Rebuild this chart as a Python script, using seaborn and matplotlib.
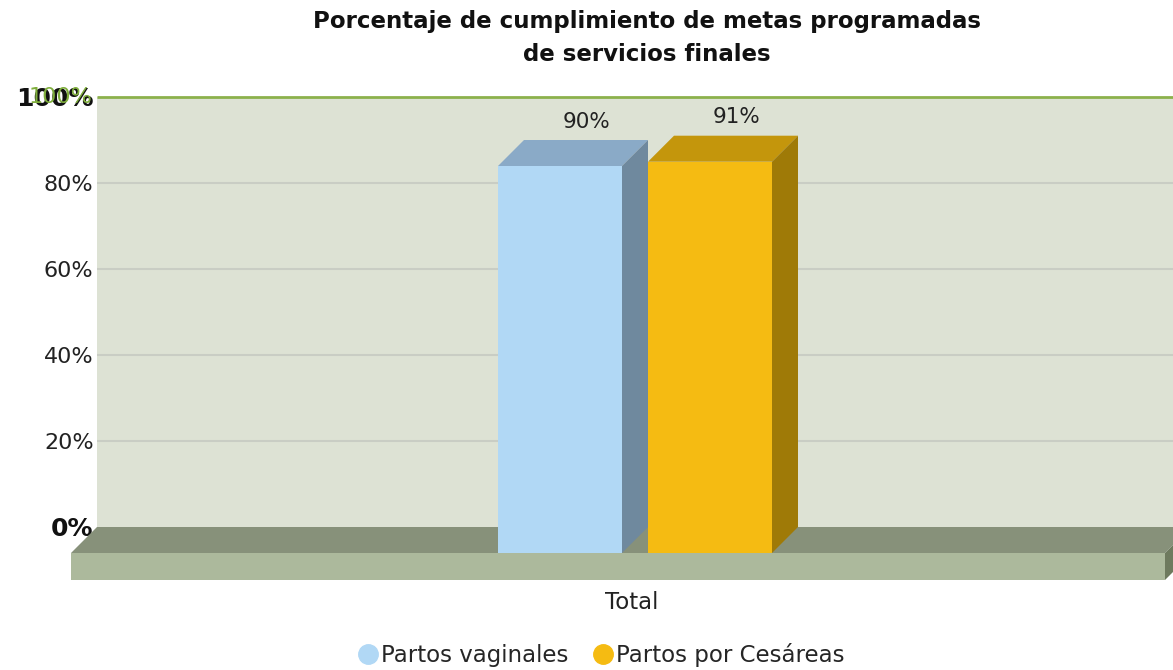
import matplotlib
matplotlib.use("Agg")
import matplotlib.pyplot as plt
import matplotlib.transforms as mtransforms
from matplotlib.patches import Polygon, Rectangle
from matplotlib.lines import Line2D
import pandas as pd
import seaborn as sns

# data
categorias = ["Total"]
series = ["Partos vaginales", "Partos por Cesáreas"]
valores = [90, 91]
etiquetas_y = ["0%", "20%", "40%", "60%", "80%", "100%"]
ticks_y = [0, 20, 40, 60, 80, 100]

colores = ["#b1d8f5", "#f5bb12"]
techos = ["#8aaac7", "#c4960c"]
lados = ["#6f899e", "#9f7a07"]

df = pd.DataFrame({"categoria": categorias * len(series), "serie": series, "valor": valores})

sns.set_style("white")
plt.rcParams["font.family"] = ["DejaVu Sans"]

W, H = 1173, 670
fig = plt.figure(figsize=(W / 100, H / 100), dpi=100)

# layout in pixels (reference image)
ax_left, ax_right, ax_top, ax_bottom = 70, 1173, 97, 580
y0_px = 527                      # 0% line on back wall
px_per_pct = (y0_px - ax_top) / 100
x0_px = 648                      # category centre
px_per_unit = 375
depth = 26                       # pseudo 3d offset in px

ax = fig.add_axes([ax_left / W, 1 - ax_bottom / H,
                   (ax_right - ax_left) / W, (ax_bottom - ax_top) / H])


def xd(px):
    return (px - x0_px) / px_per_unit


ddx = depth / px_per_unit
ddy = depth / px_per_pct

sns.barplot(data=df, x="categoria", y="valor", hue="serie", palette=colores,
            width=0.8, saturation=1, linewidth=0, legend=False, ax=ax)
bars = list(ax.patches)

# back wall, floor
wall_l, wall_r = xd(97), xd(1191)
ax.add_patch(Rectangle((wall_l, 0), wall_r - wall_l, 100, fc="#dde2d4", ec="none", zorder=0))
ax.hlines([t for t in ticks_y if 0 < t < 100], wall_l, wall_r, color="#c9cdc4", lw=1.5, zorder=0.5)
ax.hlines(100, wall_l, wall_r, color="#8cb14c", lw=2, zorder=6, clip_on=False)

floor_h = 27 / px_per_pct
ax.add_patch(Polygon([(wall_l, 0), (wall_r, 0), (wall_r - ddx, -ddy), (wall_l - ddx, -ddy)],
                     fc="#87917a", ec="none", zorder=1))
ax.add_patch(Rectangle((wall_l - ddx, -ddy - floor_h), wall_r - wall_l, floor_h,
                       fc="#acb99c", ec="none", zorder=1))
ax.add_patch(Polygon([(wall_r - ddx, -ddy), (wall_r, 0), (wall_r, -floor_h), (wall_r - ddx, -ddy - floor_h)],
                     fc="#6e7a5e", ec="none", zorder=1))

# 3d bars built on seaborn's bars
for i, b in enumerate(bars):
    v = b.get_height()
    x = b.get_x()
    w = b.get_width() - ddx
    b.set_width(w)
    b.set_y(-ddy)
    b.set_zorder(3)
    top = v - ddy
    ax.add_patch(Polygon([(x, top), (x + w, top), (x + w + ddx, v), (x + ddx, v)],
                         fc=techos[i], ec="none", zorder=3))
    ax.add_patch(Polygon([(x + w, -ddy), (x + w + ddx, 0), (x + w + ddx, v), (x + w, top)],
                         fc=lados[i], ec="none", zorder=3))
    ax.annotate(f"{v:.0f}%", (x + ddx + w / 2, v), xytext=(0, 6), textcoords="offset points",
                ha="center", va="bottom", fontsize=15.5, color="#222222", zorder=4)

ax.set_xlim(xd(ax_left), xd(ax_right))
ax.set_ylim(-(ax_bottom - y0_px) / px_per_pct, 100)
ax.set_yticks(ticks_y)
ax.set_yticklabels(etiquetas_y, fontsize=16, color="#222222")
ax.tick_params(axis="y", length=0, pad=-17)
ax.tick_params(axis="x", length=0, pad=8, labelsize=16.5, labelcolor="#222222")
for lab in ax.get_yticklabels():
    if lab.get_text() in ("0%", "100%"):
        lab.set_fontweight("bold")
        lab.set_fontsize(18)
        lab.set_color("#111111")
shift = mtransforms.ScaledTranslation(-16 / 100, 0, fig.dpi_scale_trans)
for lab in ax.get_xticklabels():
    lab.set_transform(lab.get_transform() + shift)
ax.text(xd(92), 100, "100%", ha="right", va="center",
        fontsize=16, color="#7fae3c", zorder=5, clip_on=False)
ax.set_xlabel("")
ax.set_ylabel("")
ax.set_facecolor("white")
for s in ax.spines.values():
    s.set_visible(False)

fig.text(647 / W, 1 - 38 / H, "Porcentaje de cumplimiento de metas programadas\nde servicios finales",
         ha="center", va="center", fontsize=16.5, fontweight="bold", linespacing=1.6, color="#111111")

handles = [Line2D([], [], ls="none", marker="o", ms=14, mfc=c, mec=c) for c in colores]
fig.legend(handles, series, loc="center", bbox_to_anchor=(600 / W, 15 / H), ncol=2, frameon=False,
           fontsize=16.5, handletextpad=0.0, columnspacing=1.0, handlelength=1.1)

fig.savefig("out.png", dpi=100)
